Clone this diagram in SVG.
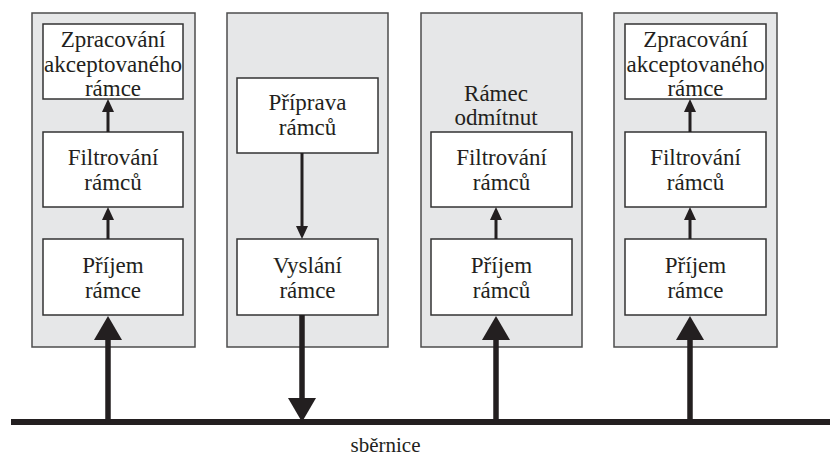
<svg xmlns="http://www.w3.org/2000/svg" xmlns:xlink="http://www.w3.org/1999/xlink" width="830" height="456" viewBox="0 0 830 456">
  <style>
    .station { fill: #e6e7e8; stroke: #4d4d4d; stroke-width: 1.5; }
    .box { fill: #ffffff; stroke: #333333; stroke-width: 1.5; }
    .lbl { fill: #231f20; text-anchor: middle; }
    .thin { stroke: #231f20; stroke-width: 3; fill: none; }
    .thick { stroke: #231f20; stroke-width: 5.5; fill: none; }
    .bus { stroke: #231f20; stroke-width: 6; fill: none; }
    .head { fill: #231f20; }
  </style>
  <defs>
    <!-- arrowheads pointing up, tip at origin -->
    <path id="headS" class="head" d="M0,0 L-6,13 L6,13 Z"/>
    <path id="headL" class="head" d="M0,0 L-14,24 L14,24 Z"/>
  </defs>

  <rect width="830" height="456" fill="#ffffff"/>

  <g font-family="Liberation Serif, Times New Roman, serif" font-size="23">
  <!-- station 1: receiver, frame accepted -->
  <g id="station1">
    <rect class="station" x="32" y="13" width="163" height="334"/>
    <g id="s1-process">
      <rect class="box" x="43" y="24" width="140" height="75"/>
      <text class="lbl" x="113" y="47">Zpracování</text>
      <text class="lbl" x="113" y="71.5">akceptovaného</text>
      <text class="lbl" x="113" y="96">rámce</text>
    </g>
    <g id="s1-filter">
      <rect class="box" x="43" y="132" width="140" height="75"/>
      <text class="lbl" x="113" y="164.5">Filtrování</text>
      <text class="lbl" x="113" y="189.5">rámců</text>
    </g>
    <g id="s1-receive">
      <rect class="box" x="43" y="239" width="140" height="76"/>
      <text class="lbl" x="113" y="272.5">Příjem</text>
      <text class="lbl" x="113" y="297.5">rámce</text>
    </g>
  </g>

  <!-- station 2: transmitter -->
  <g id="station2">
    <rect class="station" x="227" y="13" width="161" height="334"/>
    <g id="s2-prepare">
      <rect class="box" x="237" y="78" width="141" height="75"/>
      <text class="lbl" x="307.5" y="110">Příprava</text>
      <text class="lbl" x="307.5" y="135">rámců</text>
    </g>
    <g id="s2-send">
      <rect class="box" x="237" y="239" width="141" height="76"/>
      <text class="lbl" x="307.5" y="272.5">Vyslání</text>
      <text class="lbl" x="307.5" y="297.5">rámce</text>
    </g>
  </g>

  <!-- station 3: receiver, frame rejected -->
  <g id="station3">
    <rect class="station" x="421" y="13" width="161" height="334"/>
    <g id="s3-rejected">
      <text class="lbl" x="496" y="100.5">Rámec</text>
      <text class="lbl" x="496" y="124.5">odmítnut</text>
    </g>
    <g id="s3-filter">
      <rect class="box" x="431" y="132" width="141" height="75"/>
      <text class="lbl" x="501.5" y="164.5">Filtrování</text>
      <text class="lbl" x="501.5" y="189.5">rámců</text>
    </g>
    <g id="s3-receive">
      <rect class="box" x="431" y="239" width="141" height="76"/>
      <text class="lbl" x="501.5" y="272.5">Příjem</text>
      <text class="lbl" x="501.5" y="297.5">rámců</text>
    </g>
  </g>

  <!-- station 4: receiver, frame accepted -->
  <g id="station4">
    <rect class="station" x="614" y="13" width="163" height="334"/>
    <g id="s4-process">
      <rect class="box" x="625" y="24" width="141" height="75"/>
      <text class="lbl" x="695.5" y="47">Zpracování</text>
      <text class="lbl" x="695.5" y="71.5">akceptovaného</text>
      <text class="lbl" x="695.5" y="96">rámce</text>
    </g>
    <g id="s4-filter">
      <rect class="box" x="625" y="132" width="141" height="75"/>
      <text class="lbl" x="695.5" y="164.5">Filtrování</text>
      <text class="lbl" x="695.5" y="189.5">rámců</text>
    </g>
    <g id="s4-receive">
      <rect class="box" x="625" y="239" width="141" height="76"/>
      <text class="lbl" x="695.5" y="272.5">Příjem</text>
      <text class="lbl" x="695.5" y="297.5">rámce</text>
    </g>
  </g>

  <!-- bus -->
  <g id="bus">
    <line class="bus" x1="11" y1="422" x2="830" y2="422"/>
    <text class="lbl" x="385.5" y="451.5" font-size="21">sběrnice</text>
  </g>
  </g>

  <g id="connectors">
    <!-- station 1 -->
    <line class="thin" x1="108" y1="132" x2="108" y2="110"/>
    <use xlink:href="#headS" x="108" y="99"/>
    <line class="thin" x1="108" y1="239" x2="108" y2="218"/>
    <use xlink:href="#headS" x="108" y="207"/>
    <line class="thick" x1="108" y1="422" x2="108" y2="338"/>
    <use xlink:href="#headL" x="108" y="316"/>

    <!-- station 2 -->
    <line class="thin" x1="302" y1="153" x2="302" y2="229"/>
    <use xlink:href="#headS" transform="translate(302,239) rotate(180)"/>
    <line class="thick" x1="302" y1="315" x2="302" y2="400"/>
    <use xlink:href="#headL" transform="translate(302,422) rotate(180)"/>

    <!-- station 3 -->
    <line class="thin" x1="496" y1="239" x2="496" y2="218"/>
    <use xlink:href="#headS" x="496" y="207"/>
    <line class="thick" x1="496" y1="422" x2="496" y2="338"/>
    <use xlink:href="#headL" x="496" y="316"/>

    <!-- station 4 -->
    <line class="thin" x1="690" y1="132" x2="690" y2="110"/>
    <use xlink:href="#headS" x="690" y="99"/>
    <line class="thin" x1="690" y1="239" x2="690" y2="218"/>
    <use xlink:href="#headS" x="690" y="207"/>
    <line class="thick" x1="690" y1="422" x2="690" y2="338"/>
    <use xlink:href="#headL" x="690" y="316"/>
  </g>
</svg>
